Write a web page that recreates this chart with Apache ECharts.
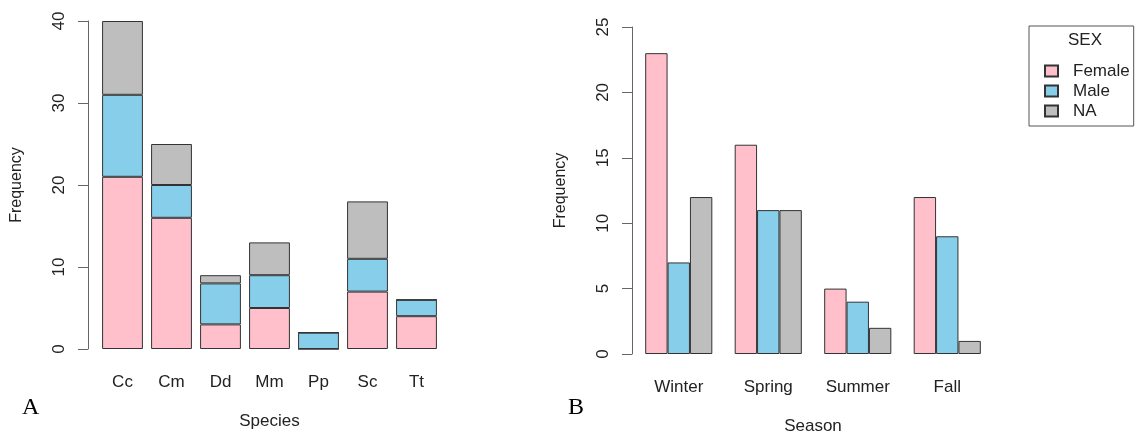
<!DOCTYPE html>
<html>
<head>
<meta charset="utf-8">
<script src="https://cdn.jsdelivr.net/npm/echarts@6/dist/echarts.min.js"></script>
<style>
  body { margin: 0; background: #fff; }
  #main { width: 1138px; height: 435px; }
</style>
</head>
<body>
<div id="main"></div>
<script>
// A: species, stacked by sex
var species = ['Cc', 'Cm', 'Dd', 'Mm', 'Pp', 'Sc', 'Tt'];
var spFemale = [21, 16, 3, 5, 0, 7, 4];
var spMale = [10, 4, 5, 4, 2, 4, 2];
var spNA = [9, 5, 1, 4, 0, 7, 0];

// B: season, side by side
var seasons = ['Winter', 'Spring', 'Summer', 'Fall'];
var seFemale = [23, 16, 5, 12];
var seMale = [7, 11, 4, 9];
var seNA = [12, 11, 2, 1];

var sexNames = ['Female', 'Male', 'NA'];
var sexColors = ['#FFC0CB', '#87CEEB', '#BEBEBE'];

var font = 'Liberation Sans, Arial, sans-serif';
var txt = '#222';

function yAxisOpt(gi, max, step, off) {
    return {
        gridIndex: gi,
        type: 'value',
        min: 0,
        max: max,
        interval: step,
        offset: off,
        name: 'Frequency',
        nameLocation: 'middle',
        nameGap: 63,
        nameTextStyle: { fontFamily: font, fontSize: 16, color: txt },
        axisLine: { show: true, lineStyle: { color: '#666', width: 1 } },
        axisTick: { show: true, length: 10, lineStyle: { color: '#666' } },
        axisLabel: { rotate: 90, margin: 20, fontFamily: font, fontSize: 17, color: txt },
        splitLine: { show: false }
    };
}

function xAxisOpt(gi, cats, title) {
    return {
        gridIndex: gi,
        type: 'category',
        data: cats,
        name: title,
        nameLocation: 'middle',
        nameGap: 64,
        nameTextStyle: { fontFamily: font, fontSize: 17, color: txt },
        axisLine: { show: false },
        axisTick: { show: false },
        axisLabel: { margin: 25, fontFamily: font, fontSize: 17, color: txt }
    };
}

var series = [];
var spData = [spFemale, spMale, spNA];
var seData = [seFemale, seMale, seNA];
for (var i = 0; i < 3; i++) {
    series.push({
        name: sexNames[i],
        type: 'bar',
        xAxisIndex: 0,
        yAxisIndex: 0,
        stack: 'sp',
        barCategoryGap: '16.7%',
        itemStyle: { color: sexColors[i], borderColor: '#333', borderWidth: 1 },
        data: spData[i]
    });
}
for (var j = 0; j < 3; j++) {
    series.push({
        name: sexNames[j],
        type: 'bar',
        xAxisIndex: 1,
        yAxisIndex: 1,
        barGap: '0%',
        barCategoryGap: '25%',
        itemStyle: { color: sexColors[j], borderColor: '#333', borderWidth: 1 },
        data: seData[j]
    });
}

var chart = echarts.init(document.getElementById('main'));
chart.setOption({
    animation: false,
    grid: [
        { left: 98, top: 21, width: 343, height: 328, outerBoundsMode: 'none' },
        { left: 634, top: 27, width: 358, height: 327, outerBoundsMode: 'none' }
    ],
    xAxis: [xAxisOpt(0, species, 'Species'), xAxisOpt(1, seasons, 'Season')],
    yAxis: [yAxisOpt(0, 40, 10, 10), yAxisOpt(1, 25, 5, 2)],
    legend: {
        data: sexNames,
        orient: 'vertical',
        left: 1029,
        top: 26,
        padding: [35, 4, 5, 15],
        itemGap: 0,
        itemWidth: 13,
        itemHeight: 11,
        icon: 'rect',
        borderColor: '#555',
        borderWidth: 1,
        textStyle: { fontFamily: font, fontSize: 17, color: txt, lineHeight: 20, padding: [0, 0, 0, 10] }
    },
    graphic: [
        { type: 'text', left: 1068, top: 32, style: { text: 'SEX', font: '17px ' + font, fill: txt } },
        { type: 'text', left: 22, top: 396, style: { text: 'A', font: '24px Liberation Serif, Times New Roman, serif', fill: '#000' } },
        { type: 'text', left: 568, top: 396, style: { text: 'B', font: '24px Liberation Serif, Times New Roman, serif', fill: '#000' } }
    ],
    series: series
});
</script>
</body>
</html>
